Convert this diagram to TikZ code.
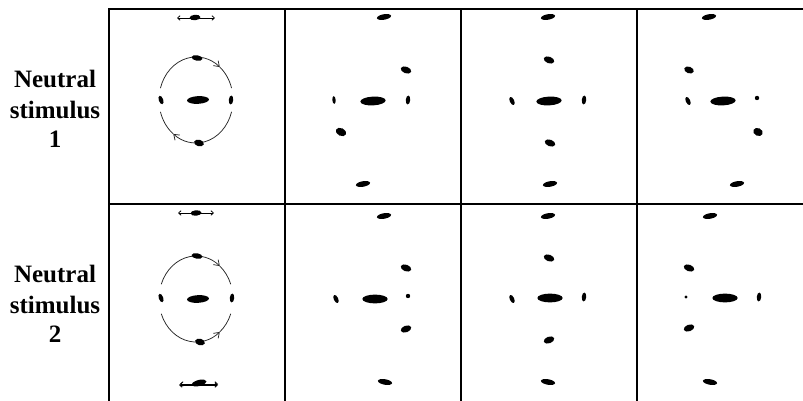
\documentclass[tikz,border=0pt]{standalone}
\usepackage{fontspec}
\setmainfont{Liberation Serif}
\usetikzlibrary{arrows.meta}
\tikzset{
  gridline/.style={line width=2.6pt, line cap=rect},
  lbl/.style={font=\fontsize{25}{28}\selectfont\bfseries, anchor=base, inner sep=0pt},
  blobsty/.style={fill=black},
  motion/.style={line width=0.75pt, black!85},
  motiontip/.style={motion, -{Straight Barb[length=5pt,width=7pt]}},
  sway/.style={line width=0.75pt, {Straight Barb[length=2.5pt,width=4.5pt]}-{Straight Barb[length=2.5pt,width=4.5pt]}}
}
\newcommand\mkblob[5]{\fill[blobsty, rotate around={#5:(#1,#2)}] (#1,#2) ellipse [x radius={(#3)*0.55pt}, y radius={(#4)*0.55pt}];}
\begin{document}
\begin{tikzpicture}[x=1pt,y=1pt]
\useasboundingbox (0,0) rectangle (803,401);
% grid
\draw[gridline] (109,392) -- (803,392);
\draw[gridline] (109,197) -- (803,197);
\foreach \gx in {109,285,461,637} {\draw[gridline] (\gx,392) -- (\gx,0);}
% labels
\node[lbl] (l1a) at (55,313) {Neutral};
\node[lbl] (l1b) at (55,282) {stimulus};
\node[lbl] (l1c) at (55,253) {1};
\node[lbl] (l2a) at (55,118) {Neutral};
\node[lbl] (l2b) at (55,87) {stimulus};
\node[lbl] (l2c) at (55,58) {2};

% ---------- row 1, col 1
\coordinate (s1tl) at (177,383); \coordinate (s1tr) at (215,383);
\draw[sway] (s1tl) -- (s1tr);
\mkblob{195}{383.5}{10}{5}{5}
\coordinate (s1bl) at (179,16); \coordinate (s1br) at (218,16);
\draw[sway] (s1bl) -- (s1br);
\mkblob{198}{17.5}{12}{5}{10}
\coordinate (c1) at (196,301);
\draw[motiontip] (c1) ++(164:37pt and 43pt) arc[start angle=164, end angle=50, x radius=37pt, y radius=43pt];
\draw[motion] (c1) ++(50:37pt and 43pt) arc[start angle=50, end angle=16, x radius=37pt, y radius=43pt];
\draw[motiontip] (c1) ++(-16:37pt and 43pt) arc[start angle=-16, end angle=-128, x radius=37pt, y radius=43pt];
\draw[motion] (c1) ++(-128:37pt and 43pt) arc[start angle=-128, end angle=-164, x radius=37pt, y radius=43pt];
\mkblob{197}{343}{10}{5}{-10}
\mkblob{199}{258}{9}{6}{-15}
\mkblob{161}{301}{4}{8}{20}
\mkblob{231}{301}{4}{8}{-5}
\mkblob{198}{301}{20}{7}{3}

% ---------- row 1, col 2
\mkblob{384}{384}{13}{5}{10}
\mkblob{406}{331}{10}{6}{-20}
\mkblob{334}{301}{3}{7}{5}
\mkblob{373}{300}{23}{8}{3}
\mkblob{408}{301}{4}{8}{-5}
\mkblob{341}{269}{10}{7}{-25}
\mkblob{363}{217}{13}{5}{10}

% ---------- row 1, col 3
\mkblob{548}{384}{13}{5}{10}
\mkblob{549}{341}{10}{6}{-20}
\mkblob{512}{300}{4}{8}{25}
\mkblob{549}{300}{23}{8}{3}
\mkblob{584}{301}{4}{8}{-5}
\mkblob{550}{258}{10}{6}{-20}
\mkblob{550}{217}{13}{5}{10}

% ---------- row 1, col 4
\mkblob{709}{384}{13}{5}{10}
\mkblob{689}{331}{9}{6}{-20}
\mkblob{688}{300}{4}{8}{25}
\mkblob{723}{300}{23}{8}{3}
\mkblob{757}{303}{4}{4}{0}
\mkblob{758}{269}{9}{7}{-25}
\mkblob{737}{217}{13}{5}{10}

% ---------- row 2, col 1
\coordinate (s2tl) at (178,188); \coordinate (s2tr) at (214,188);
\draw[sway] (s2tl) -- (s2tr);
\mkblob{196}{188}{10}{5}{5}
\coordinate (s2bl) at (180,17); \coordinate (s2br) at (218,17);
\draw[sway] (s2bl) -- (s2br);
\mkblob{200}{18.5}{12}{5}{10}
\coordinate (c2) at (196,102);
\draw[motiontip] (c2) ++(160:37pt and 43pt) arc[start angle=160, end angle=50, x radius=37pt, y radius=43pt];
\draw[motion] (c2) ++(50:37pt and 43pt) arc[start angle=50, end angle=20, x radius=37pt, y radius=43pt];
\draw[motiontip] (c2) ++(-160:37pt and 43pt) arc[start angle=-160, end angle=-50, x radius=37pt, y radius=43pt];
\draw[motion] (c2) ++(-50:37pt and 43pt) arc[start angle=-50, end angle=-20, x radius=37pt, y radius=43pt];
\mkblob{197}{145}{10}{5}{-10}
\mkblob{200}{59}{9}{6}{-15}
\mkblob{161}{103}{4}{8}{20}
\mkblob{232}{103}{4}{8}{-5}
\mkblob{198}{102}{20}{7}{3}

% ---------- row 2, col 2
\mkblob{384}{185}{13}{5}{10}
\mkblob{406}{133}{10}{6}{-20}
\mkblob{336}{102}{4}{8}{25}
\mkblob{375}{102}{23}{8}{0}
\mkblob{408}{105}{4}{4}{0}
\mkblob{406}{72}{10}{6}{20}
\mkblob{385}{19}{13}{5}{-10}

% ---------- row 2, col 3
\mkblob{548}{185}{13}{5}{10}
\mkblob{549}{143}{10}{6}{-20}
\mkblob{512}{102}{4}{8}{25}
\mkblob{550}{103}{23}{8}{0}
\mkblob{584}{104}{4}{8}{-5}
\mkblob{549}{61}{10}{6}{20}
\mkblob{548}{19}{13}{5}{-10}

% ---------- row 2, col 4
\mkblob{710}{185}{13}{5}{10}
\mkblob{689}{133}{10}{6}{-20}
\mkblob{686}{104}{3}{3}{0}
\mkblob{725}{103}{23}{8}{0}
\mkblob{759}{104}{4}{8}{-5}
\mkblob{689}{73}{10}{6}{20}
\mkblob{710}{19}{13}{5}{-10}
\end{tikzpicture}
\end{document}
